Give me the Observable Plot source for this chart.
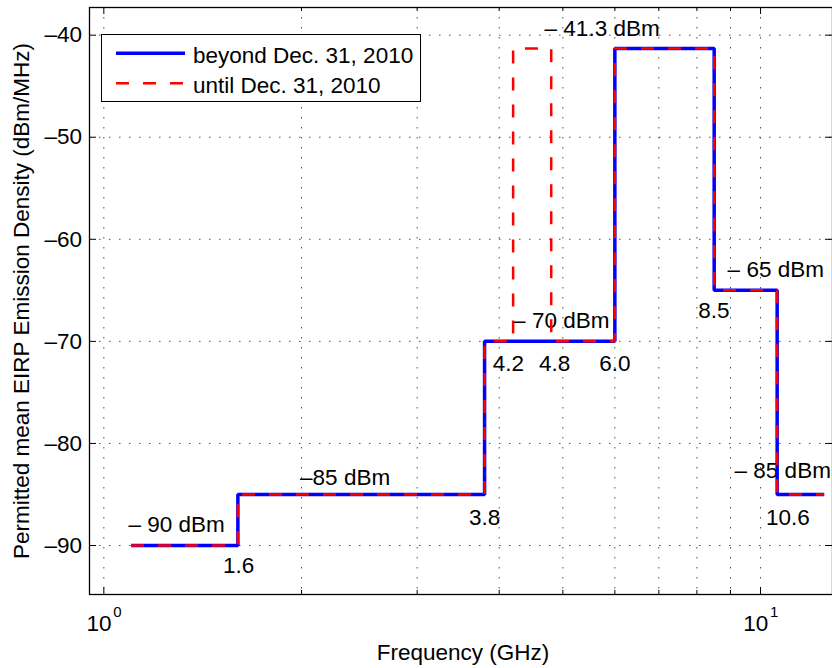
<!DOCTYPE html>
<html><head><meta charset="utf-8">
<script src="https://cdn.jsdelivr.net/npm/d3@7"></script>
<script src="https://cdn.jsdelivr.net/npm/@observablehq/plot@0.6"></script>
<style>
html,body{margin:0;padding:0;background:#fff;}
#wrap{position:relative;width:832px;height:668px;overflow:hidden;font-family:"Liberation Sans",Arial,Helvetica,sans-serif;}
#legend{position:absolute;left:101px;top:34px;width:320px;height:68px;border:1px solid #000;background:#fff;box-sizing:border-box;}
#legend svg{display:block;}
</style></head><body><div id="wrap"></div>
<script>
// ---- data ----
const seriesNames = ["beyond Dec. 31, 2010", "until Dec. 31, 2010"];
const seriesColors = ["#0000ff", "#ff0000"];
const beyondFreq  = [1.1, 1.6, 3.8, 6.0, 8.5, 10.6, 12.5];
const beyondLevel = [-90, -85, -70, -41.3, -65, -85, -85];
const untilFreq   = [1.1, 1.6, 3.8, 4.2, 4.8, 6.0, 8.5, 10.6, 12.5];
const untilLevel  = [-90, -85, -70, -41.3, -70, -41.3, -65, -85, -85];
const yTicks  = [-90, -80, -70, -60, -50, -40];
const xMajor  = [1, 10];
const xMinor  = [2, 3, 4, 5, 6, 7, 8, 9];
const levelText  = ["– 90 dBm", "–85 dBm", "– 70 dBm", "– 41.3 dBm", "– 65 dBm", "– 85 dBm"];
const levelFreq  = [1.09, 1.99, 4.2, 4.69, 8.91, 9.13];
const levelLevel = [-88, -83.4, -68, -39.4, -63, -82.65];
const edgeText  = ["1.6", "3.8", "4.2", "4.8", "6.0", "8.5", "10.6"];
const edgeFreq  = [1.604, 3.8, 4.13, 4.86, 6.0, 8.49, 11.01];
const edgeLevel = [-91.94, -87.26, -72.2, -72.2, -72.2, -66.97, -87.26];
const xLabel = "Frequency (GHz)";
const yLabel = "Permitted mean EIRP Emission Density (dBm/MHz)";

// ---- build ----
const W = 832, H = 668, mL = 89, mT = 7, mR = 0, mB = 74;
const FW = W - mL - mR, FH = H - mT - mB;
const FS = 22.5;
const beyond = beyondFreq.map((f, i) => ({f, v: beyondLevel[i]}));
const until = untilFreq.map((f, i) => ({f, v: untilLevel[i]}));
const levels = levelText.map((t, i) => ({t, f: levelFreq[i], v: levelLevel[i]}));
const edges = edgeText.map((t, i) => ({t, f: edgeFreq[i], v: edgeLevel[i]}));
const gridStyle = {stroke: "#333", strokeWidth: 1, strokeDasharray: "1.5,8.5", strokeOpacity: 0.85};

const chart = Plot.plot({
  width: W, height: H,
  marginLeft: mL, marginTop: mT, marginRight: mR, marginBottom: mB,
  style: {fontFamily: "'Liberation Sans', Arial, Helvetica, sans-serif", fontSize: FS + "px", background: "#fff", overflow: "visible"},
  x: {type: "log", domain: [0.951, 12.87], axis: null},
  y: {domain: [-94.8, -37.29], axis: null},
  marks: [
    Plot.ruleY(yTicks, {y: d => d, ...gridStyle}),
    Plot.ruleX([...xMajor.slice(0, 1), ...xMinor, ...xMajor.slice(1)], {x: d => d, ...gridStyle}),
    // inward ticks
    Plot.tickY(yTicks, {y: d => d, insetRight: FW - 7, stroke: "#000"}),
    Plot.tickY(yTicks, {y: d => d, insetLeft: FW - 7, stroke: "#000"}),
    Plot.tickX(xMajor, {x: d => d, insetTop: FH - 7, stroke: "#000"}),
    Plot.tickX(xMajor, {x: d => d, insetBottom: FH - 7, stroke: "#000"}),
    Plot.tickX(xMinor, {x: d => d, insetTop: FH - 4, stroke: "#000"}),
    Plot.tickX(xMinor, {x: d => d, insetBottom: FH - 4, stroke: "#000"}),
    // annotations (under the lines)
    Plot.text(levels, {x: "f", y: "v", text: "t", textAnchor: "start", lineAnchor: "middle", fontSize: FS}),
    Plot.text(edges, {x: "f", y: "v", text: "t", textAnchor: "middle", lineAnchor: "middle", fontSize: FS}),
    // data
    Plot.line(beyond, {x: "f", y: "v", curve: "step-after", stroke: seriesColors[0], strokeWidth: 3.5, strokeLinecap: "butt", strokeLinejoin: "miter"}),
    Plot.line(until, {x: "f", y: "v", curve: "step-after", stroke: seriesColors[1], strokeWidth: 2.5, strokeDasharray: "13,14", strokeLinecap: "butt", strokeLinejoin: "miter"}),
    // y tick labels
    Plot.text(yTicks, {y: d => d, frameAnchor: "left", text: d => "–" + Math.abs(d), textAnchor: "end", lineAnchor: "middle", dx: -7.5, fontSize: FS}),
    // x tick labels 10^k
    Plot.text(xMajor, {x: d => d, frameAnchor: "bottom", text: () => "10", textAnchor: "end", lineAnchor: "bottom", dx: 7.7, dy: 36.7, fontSize: FS}),
    Plot.text(xMajor, {x: d => d, frameAnchor: "bottom", text: d => String(Math.round(Math.log10(d))), textAnchor: "start", lineAnchor: "bottom", dx: 9.4, dy: 22.7, fontSize: 15}),
    // axis labels
    Plot.text([xLabel], {frameAnchor: "bottom", text: d => d, textAnchor: "middle", lineAnchor: "bottom", dx: 2, dy: 65.3, fontSize: FS}),
    Plot.text([yLabel], {frameAnchor: "left", text: d => d, rotate: -90, textAnchor: "middle", lineAnchor: "bottom", dx: -60.7, fontSize: FS}),
    Plot.frame({stroke: "#000", strokeWidth: 1.3})
  ]
});

const wrap = document.getElementById("wrap");
wrap.appendChild(chart);

// legend overlay
const leg = document.createElement("div");
leg.id = "legend";
const ns = "http://www.w3.org/2000/svg";
const lsvg = document.createElementNS(ns, "svg");
lsvg.setAttribute("width", 318); lsvg.setAttribute("height", 66);
seriesNames.forEach((name, i) => {
  const yl = 18.3 + 30 * i;
  const ln = document.createElementNS(ns, "line");
  ln.setAttribute("x1", 14); ln.setAttribute("x2", 83);
  ln.setAttribute("y1", yl); ln.setAttribute("y2", yl);
  ln.setAttribute("stroke", seriesColors[i]);
  ln.setAttribute("stroke-width", i === 0 ? 3.5 : 2.5);
  if (i === 1) ln.setAttribute("stroke-dasharray", "13,14");
  lsvg.appendChild(ln);
  const tx = document.createElementNS(ns, "text");
  tx.setAttribute("x", 91); tx.setAttribute("y", yl + 10);
  tx.setAttribute("font-size", FS);
  tx.setAttribute("font-family", "'Liberation Sans', Arial, Helvetica, sans-serif");
  tx.textContent = name;
  lsvg.appendChild(tx);
});
leg.appendChild(lsvg);
wrap.appendChild(leg);
</script></body></html>
